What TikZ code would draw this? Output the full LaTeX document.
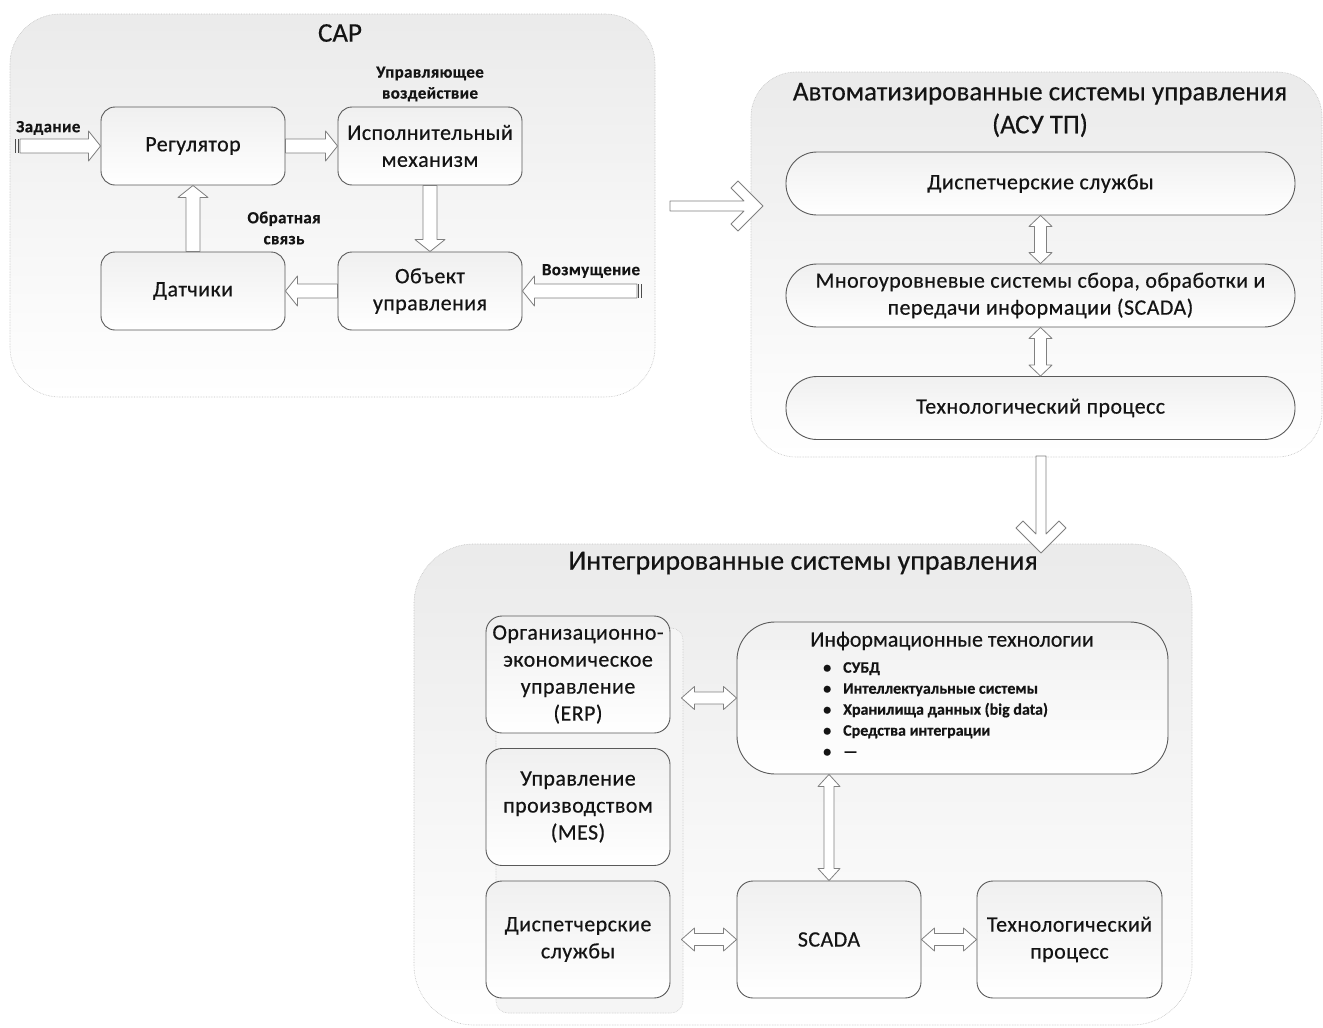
\documentclass[tikz,border=0pt]{standalone}
\usepackage{fontspec}
\setmainfont{Carlito}[FakeBold=0.4]
\usetikzlibrary{calc}
\tikzset{
  cont/.style={draw=black!25, line width=0.6pt, densely dotted, top color=black!8, bottom color=white, inner sep=0pt},
  box/.style={draw=black!65, line width=0.9pt, rounded corners=14pt, top color=black!6, bottom color=white,
    text=black!92, font=\fontsize{22}{27}\selectfont\addfontfeatures{LetterSpace=2}, align=center, inner sep=0pt},
  pill/.style={box, rounded corners=31pt, minimum width=509pt, minimum height=63pt},
  capbox/.style={box, minimum width=184pt, minimum height=78pt},
  icsbox/.style={box, rounded corners=16pt, minimum width=184pt, minimum height=117pt},
  barr/.style={draw=black!50, fill=white, line width=0.8pt, line join=round},
  lbl/.style={font=\fontsize{17}{21}\selectfont\bfseries\addfontfeatures{LetterSpace=2}, align=center, text=black!92, inner sep=0pt},
  ttl/.style={font=\fontsize{27}{33}\selectfont, align=center, text=black!92, inner sep=0pt},
  tailbar/.style={line width=1.4pt, draw=black!70},
}
% single block arrow: from #1 to #2, shaft half #3, head half #4, head length #5
\newcommand{\blkarrow}[5]{%
  \coordinate (baH) at ($(#2)!#5!(#1)$);
  \draw[barr] ($(#1)!#3!90:(#2)$) -- ($(baH)!#3!-90:(#1)$) -- ($(baH)!#4!-90:(#1)$) -- (#2)
    -- ($(baH)!#4!90:(#1)$) -- ($(baH)!#3!90:(#1)$) -- ($(#1)!#3!-90:(#2)$) -- cycle;}
% double block arrow
\newcommand{\dblarrow}[5]{%
  \coordinate (daH1) at ($(#1)!#5!(#2)$);
  \coordinate (daH2) at ($(#2)!#5!(#1)$);
  \draw[barr] (#1) -- ($(daH1)!#4!90:(#2)$) -- ($(daH1)!#3!90:(#2)$) -- ($(daH2)!#3!-90:(#1)$)
    -- ($(daH2)!#4!-90:(#1)$) -- (#2) -- ($(daH2)!#4!90:(#1)$) -- ($(daH2)!#3!90:(#1)$)
    -- ($(daH1)!#3!-90:(#2)$) -- ($(daH1)!#4!-90:(#2)$) -- cycle;}
% chevron (line) arrow
\newcommand{\chevarrow}[2]{%
  \coordinate (cvA) at ($(#2)!19pt!(#1)$);
  \coordinate (cvB) at ($(#2)!32pt!(#1)$);
  \coordinate (cvC) at ($(#2)!25pt!(#1)$);
  \draw[barr] ($(#1)!5pt!90:(#2)$) -- ($(cvA)!5pt!-90:(#1)$) -- ($(cvB)!18pt!-90:(#1)$)
    -- ($(cvC)!25pt!-90:(#1)$) -- (#2) -- ($(cvC)!25pt!90:(#1)$) -- ($(cvB)!18pt!90:(#1)$)
    -- ($(cvA)!5pt!90:(#1)$) -- ($(#1)!5pt!-90:(#2)$) -- cycle;}
\begin{document}
\begin{tikzpicture}[x=1pt, y=-1pt]
\useasboundingbox[fill=white] (0,0) rectangle (1323,1028);

% ---------- containers ----------
\node[cont, rounded corners=50pt, minimum width=645pt, minimum height=383pt] (cap) at (332.5,205.5) {};
\node[cont, rounded corners=45pt, minimum width=571pt, minimum height=385pt] (asu) at (1036.5,264.5) {};
\node[cont, rounded corners=60pt, minimum width=778pt, minimum height=481pt] (ics) at (803,784.5) {};
\node[draw=black!22, densely dotted, line width=0.6pt, fill=black!4, rounded corners=12pt,
      minimum width=187pt, minimum height=385pt, inner sep=0pt] (grp) at (589.5,820.5) {};

% ---------- titles ----------
\node[ttl] (captitle) at (340,33) {САР};
\node[ttl] (asutitle) at (1040,110) {Автоматизированные системы управления\\(АСУ ТП)};
\node[ttl, font=\fontsize{28}{33}\selectfont] (icstitle) at (803,563) {Интегрированные системы управления};

% ---------- САР ----------
\node[capbox] (reg) at (193,146) {Регулятор};
\node[capbox] (isp) at (430,146) {Исполнительный\\механизм};
\node[capbox] (dat) at (193,291) {Датчики};
\node[capbox] (obj) at (430,291) {Объект\\управления};

\node[lbl] (lupr) at (430,84) {Управляющее\\воздействие};
\node[lbl] (lobr) at (284,228) {Обратная\\связь};
\node[lbl, anchor=west] (lzad) at (16,128) {Задание};
\node[lbl] (lvoz) at (591,271) {Возмущение};

\coordinate (zad) at (20,146);
\coordinate (voz) at (637,291);
\draw[tailbar] (15.5,139) -- (15.5,153) (18.5,139) -- (18.5,153);
\draw[tailbar] (638.5,284) -- (638.5,298) (641.5,284) -- (641.5,298);

\blkarrow{zad}{reg.west}{7pt}{15pt}{12pt}
\blkarrow{reg.east}{isp.west}{7pt}{15pt}{12pt}
\blkarrow{isp.south}{obj.north}{7pt}{15pt}{12pt}
\blkarrow{obj.west}{dat.east}{7pt}{15pt}{12pt}
\blkarrow{dat.north}{reg.south}{7pt}{15pt}{12pt}
\blkarrow{voz}{obj.east}{7pt}{15pt}{12pt}

% ---------- АСУ ТП ----------
\node[pill] (p1) at (1040.5,183.5) {Диспетчерские службы};
\node[pill] (p2) at (1040.5,295.5) {Многоуровневые системы сбора, обработки и\\передачи информации (SCADA)};
\node[pill] (p3) at (1040.5,408) {Технологический процесс};
\dblarrow{p1.south}{p2.north}{6pt}{11.5pt}{11pt}
\dblarrow{p2.south}{p3.north}{6pt}{11.5pt}{11pt}

% ---------- inter-block arrows ----------
\coordinate (c1) at (670,206);
\coordinate (c2) at (763,206);
\chevarrow{c1}{c2}
\coordinate (c3) at (1041,456);
\coordinate (c4) at (1041,553);
\chevarrow{c3}{c4}

% ---------- Интегрированные ----------
\node[icsbox] (erp) at (578,674.5) {Организационно-\\экономическое\\управление\\(ERP)};
\node[icsbox] (mes) at (578,807) {Управление\\производством\\(MES)};
\node[icsbox] (disp) at (578,939.5) {Диспетчерские\\службы};
\node[box, rounded corners=38pt, minimum width=431pt, minimum height=152pt] (info) at (952.5,698) {};
\node[font=\fontsize{22}{27}\selectfont, text=black!92, inner sep=0pt] (infotitle) at (952,641) {Информационные технологии};
\node[anchor=north west, align=left, inner sep=0pt, text=black!92,
      font=\fontsize{16}{21}\selectfont\bfseries] (itlist) at (823,662) {%
  \makebox[20pt][l]{•}СУБД\\
  \makebox[20pt][l]{•}Интеллектуальные системы\\
  \makebox[20pt][l]{•}Хранилища данных (big data)\\
  \makebox[20pt][l]{•}Средства интеграции\\
  \makebox[20pt][l]{•}—};
\node[icsbox] (scada) at (829,939.5) {SCADA};
\node[icsbox, minimum width=185pt] (tech) at (1069.5,939.5) {Технологический\\процесс};

\coordinate (ei) at ($(erp.east |- info.west)+(11,0)$);
\coordinate (ds) at ($(disp.east)+(11,0)$);
\coordinate (is) at (scada.north |- info.south);
\dblarrow{ei}{info.west}{6pt}{11.5pt}{13pt}
\dblarrow{ds}{scada.west}{6pt}{11.5pt}{13pt}
\dblarrow{scada.east}{tech.west}{6pt}{11.5pt}{13pt}
\dblarrow{is}{scada.north}{5pt}{11pt}{12pt}
\end{tikzpicture}
\end{document}
